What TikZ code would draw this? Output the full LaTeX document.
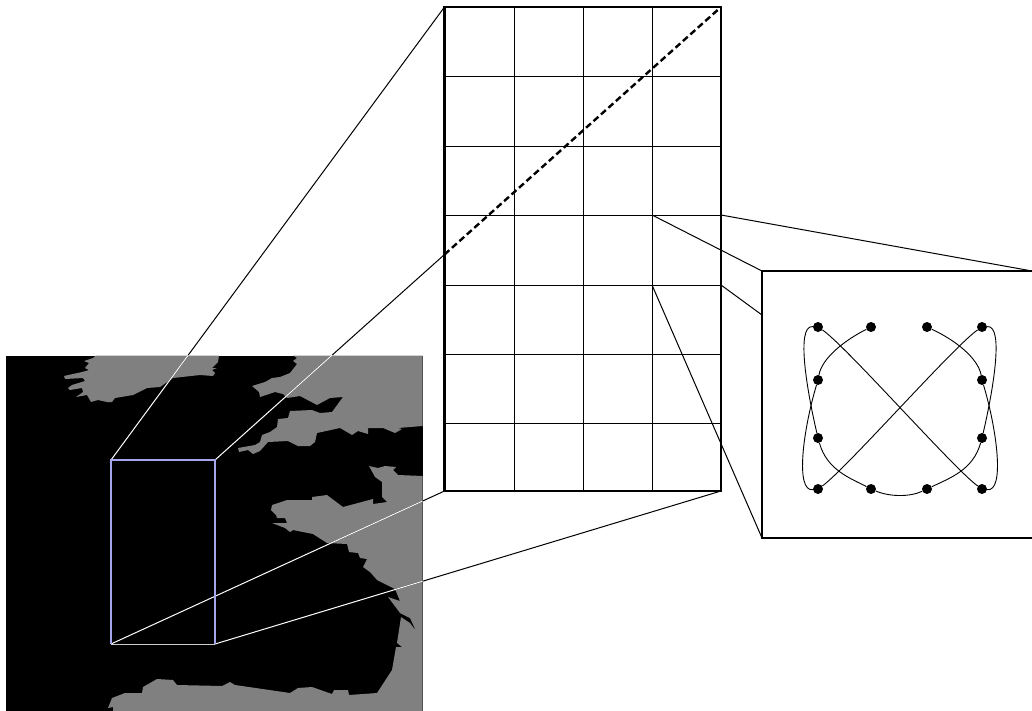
\documentclass[tikz,border=0pt]{standalone}
\usepackage{tikz}
\usetikzlibrary{positioning}

\definecolor{landgray}{gray}{0.5}
\definecolor{boxblue}{RGB}{165,165,235}

\begin{document}
\begin{tikzpicture}[x=1pt,y=-1pt,
    gridthin/.style={line width=0.9pt},
    gridthick/.style={line width=2.1pt},
    ray/.style={line width=1pt},
    dot/.style={circle,fill=black,inner sep=0pt,minimum size=10pt},
    curveline/.style={line width=0.9pt}]

  \useasboundingbox (0,0) rectangle (1032,711);

  % map
  \fill[black] (5.5,355.5) rectangle (422.5,711);
  \fill[landgray] (96,355.5) -- (93,358) -- (84,361) -- (89,363) -- (85,368) -- (89,370) -- (82,372)
    -- (64,376) -- (65,379) -- (83,378) -- (85,381) -- (72,385) -- (68,388) -- (70,390) -- (82,388)
    -- (83,392) -- (76,397) -- (87,395) -- (91,402) -- (98,400) -- (107,402) -- (112,402) -- (115,398)
    -- (133,395) -- (147,388) -- (160,387) -- (173,378) -- (200,375) -- (213,376) -- (215,373)
    -- (212,370) -- (217,368) -- (212,368) -- (218,362) -- (219,355.5) -- cycle;
  \fill[landgray] (293,355.5) -- (297,358) -- (293,361) -- (297,364) -- (290,373) -- (280,377)
    -- (272,378) -- (265,382) -- (252,386) -- (259,392) -- (260,397) -- (272,393) -- (275,392)
    -- (283,394) -- (287,398) -- (300,396) -- (317,405) -- (330,398) -- (343,397) -- (332,412)
    -- (320,413) -- (312,410) -- (290,411) -- (288,418) -- (278,419) -- (277,427) -- (270,432)
    -- (262,435) -- (260,442) -- (255,445) -- (238,448) -- (239,452) -- (248,450) -- (253,454)
    -- (260,451) -- (268,442) -- (288,441) -- (298,446) -- (310,446) -- (315,442) -- (317,433)
    -- (340,428) -- (352,435) -- (358,431) -- (368,434) -- (368,428) -- (383,428) -- (395,433)
    -- (402,429) -- (398,428) -- (422.5,426) -- (422.5,355.5) -- cycle;
  \fill[landgray] (422.5,476) -- (398,475) -- (393,470) -- (396,467) -- (385,466) -- (378,468)
    -- (369,466) -- (375,477) -- (382,482) -- (382,497) -- (387,502) -- (373,504) -- (373,499)
    -- (343,507) -- (327,495) -- (312,497) -- (312,500) -- (287,500) -- (272,505) -- (271,510)
    -- (276,515) -- (277,518) -- (285,518) -- (287,523) -- (272,523) -- (285,528) -- (290,532)
    -- (293,530) -- (313,534) -- (327,543) -- (347,544) -- (349,552) -- (358,553) -- (360,558)
    -- (367,559) -- (363,567) -- (370,572) -- (377,580) -- (395,589) -- (400,601) -- (388,597)
    -- (400,613) -- (410,618) -- (416,631) -- (410,623) -- (401,617) -- (397,643) -- (402,647)
    -- (396,647) -- (392,670) -- (377,693) -- (349,695) -- (348,690) -- (334,690) -- (332,694)
    -- (312,687) -- (298,688) -- (290,693) -- (235,685) -- (230,682) -- (222,686) -- (177,685)
    -- (173,680) -- (157,679) -- (143,687) -- (142,693) -- (125,693) -- (112,698) -- (108,708)
    -- (113,707) -- (113,711) -- (422.5,711) -- cycle;

  % corners
  \coordinate (mapA) at (111,460);
  \coordinate (mapB) at (215,460);
  \coordinate (mapC) at (215,644);
  \coordinate (mapD) at (111,644);
  \coordinate (gridA) at (444.5,7);
  \coordinate (gridB) at (721,7);
  \coordinate (gridC) at (721,491);
  \coordinate (gridD) at (444.5,491);
  \coordinate (gridE) at (444.5,254.5);
  \coordinate (cellA) at (652,215);
  \coordinate (cellB) at (721,215);
  \coordinate (cellC) at (721,285);
  \coordinate (cellD) at (652,285);
  \coordinate (zoomA) at (762,271);
  \coordinate (zoomB) at (1032,271);
  \coordinate (zoomC) at (1032,538);
  \coordinate (zoomD) at (762,538);
  \coordinate (zoomE) at (762,315);

  % rays
  \draw[ray] (mapA) -- (gridA);
  \draw[ray] (mapB) -- (gridE);
  \draw[ray] (mapD) -- (gridD);
  \draw[ray] (mapC) -- (gridC);
  \begin{scope}
    \clip (5.5,355.5) rectangle (422.5,711);
    \draw[ray,white] (mapA) -- (gridA);
    \draw[ray,white] (mapB) -- (gridE);
    \draw[ray,white] (mapD) -- (gridD);
    \draw[ray,white] (mapC) -- (gridC);
  \end{scope}
  \draw[line width=1.2pt,boxblue] (mapD) -- (mapA) -- (mapB) -- (mapC);
  \draw[ray,white!80!black] (mapD) -- (mapC);

  % grid
  \foreach \x in {514,583,652}
    \draw[gridthin] (\x,7) -- (\x,491);
  \foreach \y in {76,146,215,285,354,423}
    \draw[gridthin] (444.5,\y) -- (721,\y);
  \draw[gridthick] (gridA) -- (gridB) -- (gridC) -- (gridD) -- cycle;
  \draw[line width=2.4pt,dash pattern=on 6.5pt off 3.5pt] (gridE) -- (gridB);

  % zoomed cell
  \draw[ray] (cellA) -- (zoomA);
  \draw[ray] (cellB) -- (zoomB);
  \draw[ray] (cellC) -- (zoomE);
  \draw[ray] (cellD) -- (zoomD);
  \draw[gridthick] (zoomB) -- (zoomA) -- (zoomD) -- (zoomC);

  % control points
  \node[dot] (p1) at (871,327) {};
  \node[dot] (p2) at (818,380) {};
  \node[dot] (p3) at (818,489) {};
  \node[dot] (p4) at (982,327) {};
  \node[dot] (p5) at (982,438) {};
  \node[dot] (p6) at (927,489) {};
  \node[dot] (p7) at (871,489) {};
  \node[dot] (p8) at (818,438) {};
  \node[dot] (p9) at (818,327) {};
  \node[dot] (p10) at (982,489) {};
  \node[dot] (p11) at (982,380) {};
  \node[dot] (p12) at (927,327) {};

  \draw[curveline] (p1) .. controls (845,340) and (822,358) .. (p2);
  \draw[curveline] (p2) .. controls (803,430) and (795,492) .. (p3);
  \draw[curveline] (p3) .. controls (845,470) and (955,345) .. (p4);
  \draw[curveline] (p4) .. controls (1005,325) and (992,395) .. (p5);
  \draw[curveline] (p5) .. controls (973,470) and (950,478) .. (p6);
  \draw[curveline] (p6) .. controls (910,497) and (890,497) .. (p7);
  \draw[curveline] (p7) .. controls (850,478) and (827,470) .. (p8);
  \draw[curveline] (p8) .. controls (808,395) and (795,325) .. (p9);
  \draw[curveline] (p9) .. controls (845,345) and (955,470) .. (p10);
  \draw[curveline] (p10) .. controls (1005,492) and (997,430) .. (p11);
  \draw[curveline] (p11) .. controls (978,358) and (955,340) .. (p12);

\end{tikzpicture}
\end{document}
